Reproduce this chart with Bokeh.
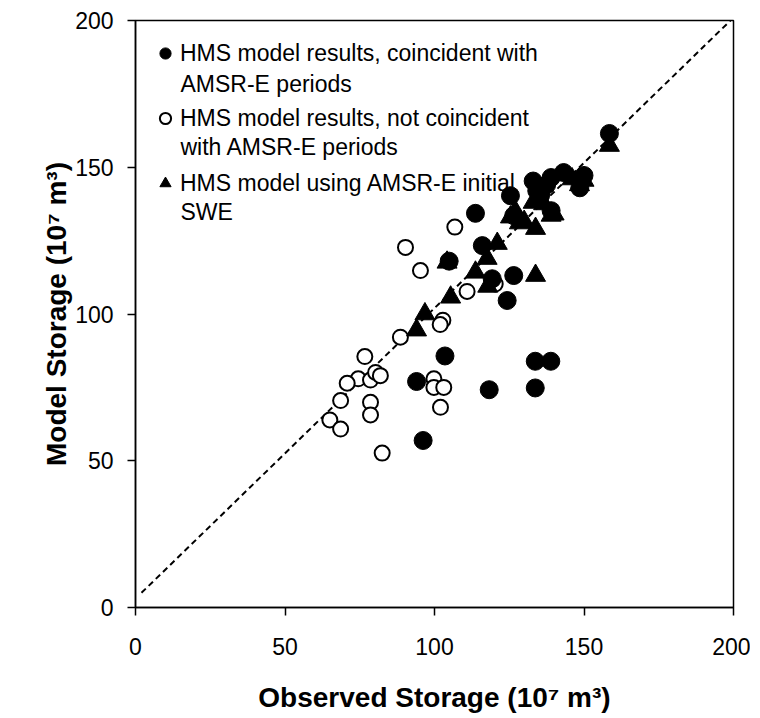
from bokeh.plotting import figure
from bokeh.models import Range1d, FixedTicker, Legend, LegendItem, Label
from bokeh.embed import file_html
from bokeh.resources import INLINE

# HMS model results, coincident with AMSR-E periods (filled circles)
obs_coinc = [158.5, 125.4, 113.7, 116.0, 104.9, 119.3, 126.5, 124.3, 103.5, 133.7,
             138.9, 94.0, 118.3, 133.7, 96.2, 133.0, 134.2, 135.5, 137.5, 139.0,
             143.2, 148.6, 150.0, 139.0, 126.5]
mod_coinc = [161.5, 140.3, 134.3, 123.3, 118.0, 112.0, 113.1, 104.6, 85.7, 83.9,
             83.9, 77.0, 74.2, 74.8, 56.9, 145.3, 142.0, 140.5, 144.0, 146.5,
             148.2, 143.0, 147.2, 135.2, 133.5]

# HMS model results, not coincident with AMSR-E periods (open circles)
obs_nonc = [106.8, 90.3, 95.3, 110.9, 120.3, 102.8, 101.9, 88.6, 76.7, 74.5,
            70.8, 68.6, 65.0, 68.6, 78.6, 78.6, 82.5, 78.6, 80.3, 81.9,
            99.8, 99.8, 103.1, 102.0]
mod_nonc = [129.6, 122.7, 114.8, 107.7, 110.2, 97.9, 96.4, 92.1, 85.5, 77.9,
            76.4, 70.5, 63.9, 60.8, 69.9, 65.6, 52.6, 77.5, 80.1, 79.0,
            77.9, 75.0, 75.0, 68.2]

# HMS model using AMSR-E initial SWE (triangles)
obs_swe = [158.5, 96.8, 94.0, 105.4, 104.2, 113.7, 121.0, 117.6, 117.8, 133.8,
           133.8, 125.4, 127.0, 128.4, 130.0, 139.0, 140.0, 133.0, 135.0, 136.5,
           146.0, 150.0, 148.5]
mod_swe = [157.4, 100.0, 94.5, 105.7, 117.6, 114.2, 124.0, 118.9, 109.4, 113.1,
           129.1, 133.0, 135.0, 131.0, 131.5, 133.6, 134.0, 138.0, 140.0, 137.5,
           146.0, 145.5, 144.0]

# 1:1 reference line
ref_x = [2, 199]
ref_y = [5, 200]

ticks = [0, 50, 100, 150, 200]

legend_first = ["HMS model results, coincident with",
                "HMS model results, not coincident",
                "HMS model using AMSR-E initial"]
legend_second = ["AMSR-E periods", "with AMSR-E periods", "SWE"]

FONT = "Liberation Sans"

p = figure(width=750, height=716, output_backend="svg", toolbar_location=None,
           x_range=Range1d(0, 200), y_range=Range1d(0, 200),
           min_border_left=135, min_border_right=17, min_border_top=20,
           min_border_bottom=109)
p.background_fill_color = "white"
p.border_fill_color = "white"
p.outline_line_color = "black"
p.outline_line_width = 1.5
p.xgrid.visible = False
p.ygrid.visible = False

for ax in (p.xaxis[0], p.yaxis[0]):
    ax.ticker = FixedTicker(ticks=ticks)
    ax.axis_line_color = "black"
    ax.axis_line_width = 1.5
    ax.major_tick_line_color = "black"
    ax.major_tick_line_width = 1.5
    ax.major_tick_out = 8
    ax.major_tick_in = 0
    ax.minor_tick_line_color = None
    ax.major_label_text_font = FONT
    ax.major_label_text_font_size = "23px"
    ax.major_label_text_color = "black"
    ax.axis_label_text_font = FONT
    ax.axis_label_text_font_size = "28px"
    ax.axis_label_text_font_style = "bold"
    ax.axis_label_text_color = "black"

p.xaxis.axis_label = "Observed Storage (10\u2077 m\u00b3)"
p.yaxis.axis_label = "Model Storage (10\u2077 m\u00b3)"
p.xaxis.major_label_standoff = 22
p.yaxis.major_label_standoff = 14
p.xaxis.axis_label_standoff = 24
p.yaxis.axis_label_standoff = 0

p.line(ref_x, ref_y, line_color="black", line_width=2, line_dash="6 4")

r_open = p.scatter(obs_nonc, mod_nonc, marker="circle", size=15,
                   fill_color="white", line_color="black", line_width=2)
r_fill = p.scatter(obs_coinc, mod_coinc, marker="circle", size=18,
                   fill_color="black", line_color="black", line_width=1)
r_tri = p.scatter(obs_swe, mod_swe, marker="triangle", size=20,
                  fill_color="black", line_color="black", line_width=1)

legend = Legend(items=[LegendItem(label=legend_first[0], renderers=[r_fill]),
                       LegendItem(label=legend_first[1], renderers=[r_open]),
                       LegendItem(label=legend_first[2], renderers=[r_tri])],
                location="top_left", margin=16, padding=4,
                glyph_width=28, glyph_height=34, label_standoff=1,
                spacing=31, label_height=34,
                border_line_color=None, background_fill_alpha=0,
                label_text_font=FONT, label_text_font_size="23px",
                label_text_color="black")
p.add_layout(legend)

second_y = [178.4, 157.0, 134.7]
for txt, yy in zip(legend_second, second_y):
    p.add_layout(Label(x=15.05, y=yy, text=txt, text_baseline="middle",
                       text_font=FONT, text_font_size="23px",
                       text_color="black"))

open("out.html", "w").write(file_html(p, INLINE))
